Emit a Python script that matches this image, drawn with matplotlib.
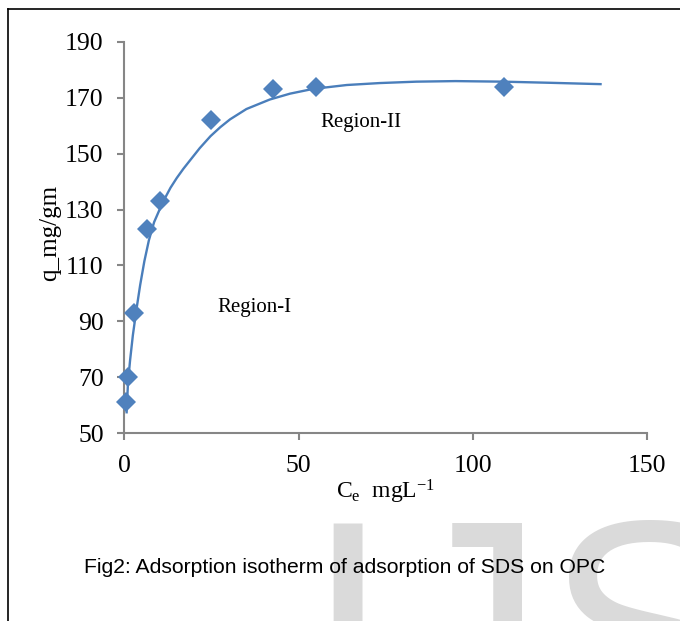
import matplotlib
matplotlib.use('Agg')
import matplotlib.pyplot as plt
from matplotlib.lines import Line2D

# ---- data ----
ce_values = [0.5, 0.9, 2.6, 6.6, 10.3, 24.7, 42.5, 54.9, 108.9]
q_values = [61, 70, 93, 123, 133, 162, 173, 174, 174]

# fitted curve
curve_x = [0.6, 1.0, 1.6, 2.4, 3.4, 4.5, 5.7, 7.0, 8.5, 10.0, 11.5, 13.2, 15.0,
           16.9, 18.8, 21.6, 24.7, 27.5, 30.3, 35.0, 41.7, 47.5, 54.1, 63.8,
           73.3, 83.8, 95.0, 108.6, 122.0, 137.0]
curve_y = [57, 68, 76, 85, 94, 103, 111.5, 119, 125.5, 129.8, 133.8, 137.8, 141.3,
           144.6, 147.6, 152.0, 156.3, 159.5, 162.3, 166.0, 169.4, 171.5, 173.2, 174.6,
           175.3, 175.8, 176.0, 175.8, 175.4, 174.9]

x_ticks = [0, 50, 100, 150]
y_ticks = [50, 70, 90, 110, 130, 150, 170, 190]

region_labels = ["Region-I", "Region-II"]
region_pos = [(26.8, 93.4), (56.1, 159.7)]

caption = "Fig2: Adsorption isotherm of adsorption of SDS on OPC"

# ---- figure ----
plt.rcParams['mathtext.fontset'] = 'custom'
plt.rcParams['mathtext.rm'] = 'Liberation Serif'
plt.rcParams['mathtext.it'] = 'Liberation Serif:italic'
plt.rcParams['font.family'] = ['Liberation Serif', 'DejaVu Serif']

W, H = 680, 621
fig = plt.figure(figsize=(6.8, 6.21), dpi=100)


def fx(px):
    return px / W


def fy(py):
    return 1 - py / H


ax = fig.add_axes([fx(124.5), fy(433), fx(647) - fx(124.5), fy(42) - fy(433)])
ax.set_xlim(0, 150)
ax.set_ylim(50, 190)

ax.plot(curve_x, curve_y, color='#4a7ebb', lw=1.7, zorder=2, clip_on=False,
        solid_joinstyle='round', solid_capstyle='butt')
ax.plot(ce_values, q_values, linestyle='none', marker='D', ms=10.5,
        markerfacecolor='#4f81bd', markeredgewidth=0, zorder=3, clip_on=False)

for s in ['top', 'right']:
    ax.spines[s].set_visible(False)
for s in ['left', 'bottom']:
    ax.spines[s].set_color('#868686')
    ax.spines[s].set_linewidth(1.5)

ax.set_xticks(x_ticks)
ax.set_yticks(y_ticks)
ax.tick_params(direction='out', length=5, width=1.5, color='#868686',
               labelsize=18.5, labelcolor='black')
ax.tick_params(axis='y', pad=10)
ax.tick_params(axis='x', pad=10.5)

ax.set_xlabel(r"C$_\mathrm{e}$  mgL$^\mathrm{-1}$", fontsize=17, labelpad=1)
fig.text(fx(50), fy(233), "q_mg/gm", rotation=90, fontsize=18,
         ha='center', va='center')

for lab, (x, y) in zip(region_labels, region_pos):
    ax.text(x, y, lab, fontsize=15, ha='left', va='baseline')

# caption and watermark
fig.text(fx(304), fy(737), "IJS", fontsize=223, family='Liberation Sans',
         color='#dadada', ha='left', va='baseline', zorder=0.5)
fig.text(fx(84), fy(573), caption, fontsize=15.2, family='Liberation Sans',
         ha='left', va='baseline', zorder=5)

# page border (left and top)
fig.add_artist(Line2D([fx(8), fx(8)], [fy(9), 0], transform=fig.transFigure,
                      color='black', lw=1.2))
fig.add_artist(Line2D([fx(8), 1], [fy(9), fy(9)], transform=fig.transFigure,
                      color='black', lw=1.2))

fig.savefig('out.png', dpi=100)
